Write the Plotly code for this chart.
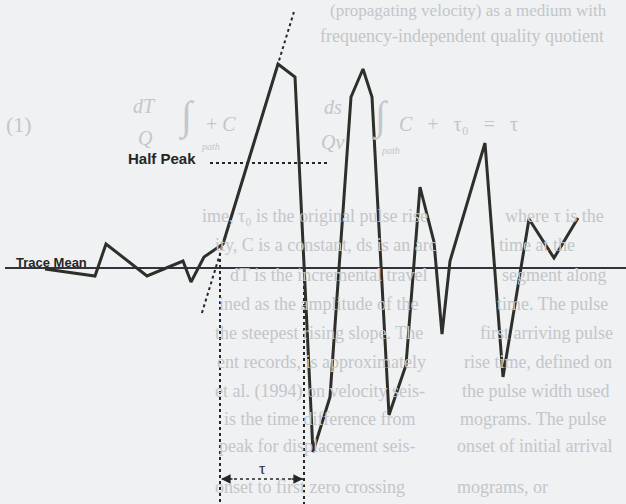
import plotly.graph_objects as go

# Seismic trace: time samples and amplitude relative to the trace mean
time = [45, 95, 106, 147, 183, 191, 204, 223, 278, 295, 313, 330, 351, 363,
        372, 389, 406, 420, 434, 442, 450, 485, 503, 529, 554, 578]
amplitude = [-1, -8, 24, -8, 7, -14, 11, 24, 204, 191, -184, -129, 171, 199,
             171, -147, -97, 81, 26, -66, 7, 125, -109, 49, 10, 50]

half_peak_level = 105
onset_time = 220
zero_cross_time = 304

# Printed page text behind the figure: row positions, left and right pieces
page_rows = [216, 245, 275, 304, 333, 362, 391, 419, 446, 487]
page_left_text = [
    "ime, τ₀ is the original pulse rise",
    "ity, C is a constant, ds is an arc",
    "dT is the incremental travel",
    "ined as the amplitude of the",
    "the steepest rising slope. The",
    "ent records, is approximately",
    "et al. (1994) on velocity seis-",
    "is the time difference from",
    "peak for displacement seis-",
    "onset to first zero crossing",
]
page_left_x = [200, 213, 228, 217, 213, 215, 213, 222, 217, 213]
page_right_text = [
    "where τ is the",
    "time at the",
    "segment along",
    "time. The pulse",
    "first arriving pulse",
    "rise time, defined on",
    "the pulse width used",
    "mograms. The pulse",
    "onset of initial arrival",
    "mograms, or",
]
page_right_x = [503, 497, 500, 495, 478, 462, 460, 458, 455, 455]

INK = "#2e2e2a"
DOT = "#262622"
BG = "#eff1f3"
PAGE = "#c3c6c9"
SERIF = "Liberation Serif"

fig = go.Figure()

# trace mean
fig.add_trace(go.Scatter(x=[5, 626], y=[0, 0], mode="lines",
                         line=dict(color="#33333d", width=1.8),
                         hoverinfo="skip", showlegend=False))

# steepest rising slope extended as a tangent
i_on, i_pk = 7, 8
slope = (amplitude[i_pk] - amplitude[i_on]) / (time[i_pk] - time[i_on])
a_lo, a_hi = -45, 256
t_lo = time[i_on] + (a_lo - amplitude[i_on]) / slope
t_hi = time[i_on] + (a_hi - amplitude[i_on]) / slope
fig.add_trace(go.Scatter(x=[t_lo, t_hi], y=[a_lo, a_hi], mode="lines",
                         line=dict(color=DOT, width=2, dash="dot"),
                         hoverinfo="skip", showlegend=False))

# half peak level
fig.add_trace(go.Scatter(x=[210, 327], y=[half_peak_level] * 2, mode="lines",
                         line=dict(color=DOT, width=2, dash="dot"),
                         hoverinfo="skip", showlegend=False))

# onset and first zero crossing markers
for t, top in [(onset_time, 15), (zero_cross_time, 0)]:
    fig.add_trace(go.Scatter(x=[t, t], y=[top, -240], mode="lines",
                             line=dict(color=DOT, width=2, dash="dot"),
                             hoverinfo="skip", showlegend=False))

# pulse width span
tau_level = -211
fig.add_trace(go.Scatter(x=[onset_time + 2, zero_cross_time], y=[tau_level] * 2,
                         mode="lines", line=dict(color=DOT, width=1.6, dash="dot"),
                         hoverinfo="skip", showlegend=False))

# waveform
fig.add_trace(go.Scatter(x=time, y=amplitude, mode="lines",
                         line=dict(color=INK, width=3),
                         hoverinfo="skip", showlegend=False))


def row_amp(y_row):
    # page rows are measured downward from the top edge
    return 268 - y_row


def page_text(x, y_row, text, size=18, anchor="left"):
    return dict(x=x, y=row_amp(y_row), text=text, xanchor=anchor, yanchor="middle",
                showarrow=False, font=dict(family=SERIF, size=size, color=PAGE))


annotations = []
annotations.append(page_text(328, 10, "(propagating velocity) as a medium with", size=17))
annotations.append(page_text(318, 36, "frequency-independent quality quotient"))
# equation (1)
annotations += [
    page_text(4, 124, "(1)", size=22),
    page_text(131, 106, "<i>dT</i>", size=20),
    page_text(136, 138, "<i>Q</i>", size=20),
    page_text(176, 116, "∫", size=40),
    page_text(199, 146, "<i>path</i>", size=10),
    page_text(204, 124, "+ <i>C</i>", size=20),
    page_text(322, 107, "<i>ds</i>", size=20),
    page_text(319, 142, "<i>Qv</i>", size=20),
    page_text(370, 116, "∫", size=40),
    page_text(379, 150, "<i>path</i>", size=10),
    page_text(397, 124, "<i>C</i>   +   τ₀   =   τ", size=20),
]
for y_row, txt, x0 in zip(page_rows, page_left_text, page_left_x):
    annotations.append(page_text(x0, y_row, txt))
for y_row, txt, x0 in zip(page_rows, page_right_text, page_right_x):
    annotations.append(page_text(x0, y_row, txt))

annotations += [
    dict(x=14, y=6, text="<b>Trace Mean</b>", xanchor="left", yanchor="middle",
         showarrow=False, font=dict(family="Liberation Sans", size=13, color="#262626")),
    dict(x=126, y=110, text="<b>Half Peak</b>", xanchor="left", yanchor="middle",
         showarrow=False, font=dict(family="Liberation Sans", size=15, color="#262626")),
    dict(x=262, y=-200, text="τ", xanchor="center", yanchor="middle",
         showarrow=False, font=dict(family=SERIF, size=16, color="#262626")),
]
# arrowheads at both ends of the pulse width span
for tip, tail in [(onset_time + 1, onset_time + 14), (zero_cross_time - 1, zero_cross_time - 14)]:
    annotations.append(dict(x=tip, y=tau_level, ax=tail, ay=tau_level,
                            axref="x", ayref="y", xref="x", yref="y", text="",
                            showarrow=True, arrowhead=2, arrowsize=1.2,
                            arrowwidth=1.6, arrowcolor=DOT))

fig.update_layout(
    width=626, height=504,
    margin=dict(l=0, r=0, t=0, b=0),
    paper_bgcolor=BG, plot_bgcolor=BG,
    xaxis=dict(range=[0, 626], visible=False, fixedrange=True),
    yaxis=dict(range=[-236, 268], visible=False, fixedrange=True),
    annotations=annotations,
)

fig.write_html("out.html")
